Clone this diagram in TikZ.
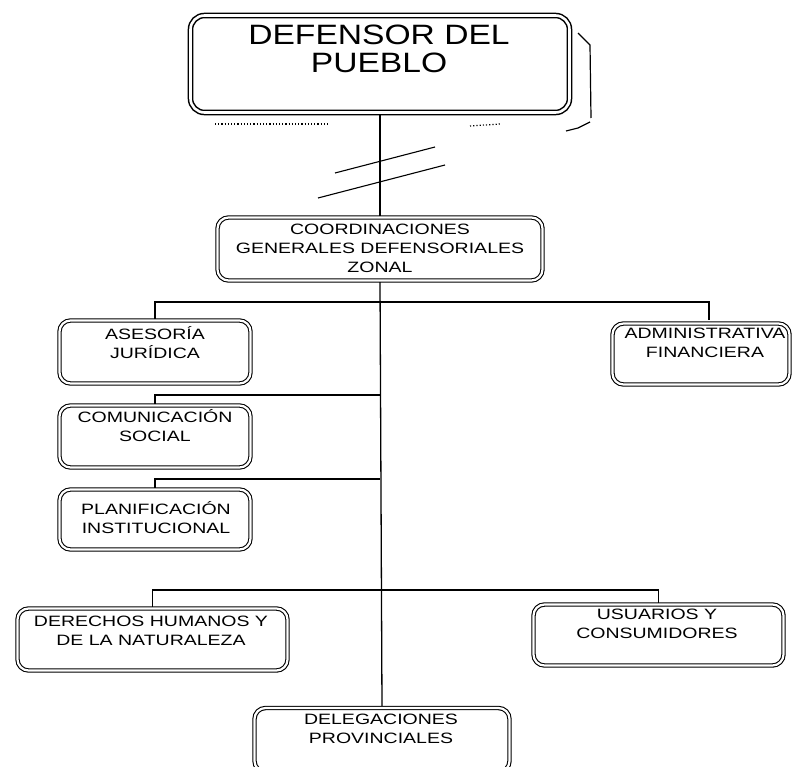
\documentclass[tikz,border=0pt]{standalone}
\usepackage{fontspec}
\setmainfont{Liberation Sans}
\newfontfamily\bigf{Liberation Sans}[FakeStretch=1.2]
\newfontfamily\smf{Liberation Sans}[FakeStretch=1.3]
\usetikzlibrary{backgrounds}
\begin{document}
\begin{tikzpicture}[x=1pt,y=-1pt,
  box/.style={draw=black, double=white, double distance=2.2pt, line width=1.1pt,
              rounded corners=11pt, inner sep=0pt, shape=rectangle},
  bigbox/.style={box, line width=1.5pt, double distance=2.6pt, rounded corners=14pt},
  bigtxt/.style={align=center, inner sep=0pt, font={\bigf\fontsize{28}{28}\selectfont}},
  txt/.style={align=center, inner sep=0pt, font={\smf\fontsize{15}{19}\selectfont}},
  conn/.style={draw=black, line width=1.3pt},
  breakmark/.style={draw=black, line width=1.1pt},
  shadowline/.style={draw=black, line width=1.2pt}]
\useasboundingbox (0,0) rectangle (794,767);

% boxes
\node[bigbox, minimum width=379pt, minimum height=97pt] (top) at (380,64) {};
\node[box, minimum width=325pt, minimum height=63pt] (coord) at (380,249) {};
\node[box, minimum width=191pt, minimum height=63pt] (ase) at (155,352) {};
\node[box, minimum width=191pt, minimum height=62pt] (com) at (155,436.5) {};
\node[box, minimum width=191pt, minimum height=60pt] (pla) at (155,519.5) {};
\node[box, minimum width=177pt, minimum height=61pt] (adm) at (701,354) {};
\node[box, minimum width=270pt, minimum height=62pt] (der) at (152.5,639.5) {};
\node[box, minimum width=250pt, minimum height=61pt] (usu) at (658.5,635) {};
\node[box, minimum width=255pt, minimum height=64pt] (del) at (382,740) {};

% texts
\node[bigtxt] (ttop) at (379,49) {DEFENSOR DEL\\PUEBLO};
\node[txt] (tcoord) at (380,248) {COORDINACIONES\\GENERALES DEFENSORIALES\\ZONAL};
\node[txt] (tase) at (155,342.5) {ASESORÍA\\JURÍDICA};
\node[txt] (tcom) at (155,426) {COMUNICACIÓN\\SOCIAL};
\node[txt] (tpla) at (156,517.5) {PLANIFICACIÓN\\INSTITUCIONAL};
\node[txt] (tadm) at (705,342.5) {ADMINISTRATIVA\\FINANCIERA};
\node[txt] (tder) at (151,631) {DERECHOS HUMANOS Y\\DE LA NATURALEZA};
\node[txt] (tusu) at (657,624) {USUARIOS Y\\CONSUMIDORES};
\node[txt] (tdel) at (381,729) {DELEGACIONES\\PROVINCIALES};

% connectors
\coordinate (h1) at (380,302);
\coordinate (h2) at (380,395);
\coordinate (h3) at (380,479);
\coordinate (h4) at (380,590);
\coordinate (admtop) at (709,320);
\begin{pgfonlayer}{background}
\draw[conn] (top.south) -- (coord.north);
\draw[conn] (coord.south) -- (del.north);
\draw[conn] (ase.north) |- (h1) -| (admtop);
\draw[conn] (com.north) |- (h2);
\draw[conn] (pla.north) |- (h3);
\draw[conn] (der.north) |- (h4) -| (usu.north);
\end{pgfonlayer}

% break marks across the top connector
\draw[breakmark] (335,173) -- (435,147);
\draw[breakmark] (318,198) -- (445,165);

% shadow traces of the top box
\draw[shadowline] (578,33) -- (590,45) -- (591,118);
\draw[shadowline] (566,131) -- (578,128) -- (590,122);
\draw[shadowline, dotted] (215,124) -- (330,124);
\draw[shadowline, dotted] (470,126) -- (500,124);
\end{tikzpicture}
\end{document}
